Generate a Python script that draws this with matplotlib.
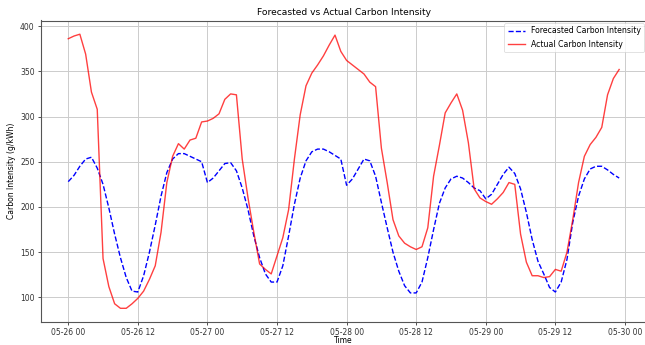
import matplotlib
matplotlib.use("Agg")
import matplotlib.pyplot as plt
import matplotlib.dates as mdates
import pandas as pd

times = pd.date_range("2024-05-26 00:00", periods=96, freq="h")

forecast = [228, 235, 245, 253, 255, 243, 225, 199, 170, 144, 122, 107, 106, 124, 150, 180,
            212, 238, 253, 259, 259, 256, 253, 250, 227, 232, 240, 248, 249, 240, 221, 197,
            168, 144, 126, 117, 117, 135, 168, 203, 232, 251, 261, 264, 264, 261, 257, 253,
            224, 231, 242, 253, 251, 234, 205, 177, 150, 129, 113, 105, 105, 117, 144, 175,
            204, 221, 231, 234, 232, 227, 221, 218, 209, 214, 225, 236, 244, 237, 220, 194,
            164, 140, 126, 111, 106, 117, 142, 183, 212, 231, 242, 245, 245, 241, 236, 232]

actual = [386, 389, 391, 369, 327, 308, 143, 112, 93, 88, 88, 93, 99, 107, 120, 135,
          172, 227, 256, 270, 264, 274, 276, 294, 295, 298, 303, 319, 325, 324, 253, 210,
          172, 137, 131, 126, 146, 166, 197, 253, 302, 334, 348, 357, 367, 379, 390, 372,
          362, 357, 352, 347, 338, 333, 265, 227, 186, 168, 160, 156, 153, 156, 177, 234,
          268, 304, 315, 325, 307, 271, 220, 210, 206, 203, 209, 216, 227, 225, 170, 139,
          124, 124, 122, 123, 131, 129, 150, 186, 227, 256, 269, 277, 288, 324, 342, 352]

W, H = 645, 345
fig = plt.figure(figsize=(W / 100, H / 100), dpi=100)
ax = fig.add_axes([40.7 / W, (H - 322.0) / H, 606 / W, (322.0 - 20.5) / H])

ax.plot(times, forecast, color="blue", linestyle="--", linewidth=1.0,
        label="Forecasted Carbon Intensity")
ax.plot(times, actual, color="red", alpha=0.75, linewidth=1.0,
        label="Actual Carbon Intensity")

ax.xaxis.set_major_locator(mdates.HourLocator(byhour=[0, 12]))
ax.xaxis.set_major_formatter(mdates.DateFormatter("%m-%d %H"))
ax.tick_params(labelsize=5.5, length=2.5, width=0.6, pad=1.8, colors="#333333")
for s in ax.spines.values():
    s.set_linewidth(0.8)
    s.set_color("#555555")

ax.grid(True, color="#cccccc", linewidth=0.7)
ax.set_title("Forecasted vs Actual Carbon Intensity", fontsize=6.6, pad=4)
ax.set_xlabel("Time", fontsize=5.5, labelpad=-0.8)
ax.set_ylabel("Carbon Intensity (g/kWh)", fontsize=5.5, labelpad=3)
leg = ax.legend(loc="upper right", fontsize=5.6, framealpha=0.8, borderpad=0.4,
                labelspacing=0.6, handlelength=2.2, borderaxespad=0.35)
leg.get_frame().set_linewidth(0.5)

fig.savefig("out.png", dpi=100)
